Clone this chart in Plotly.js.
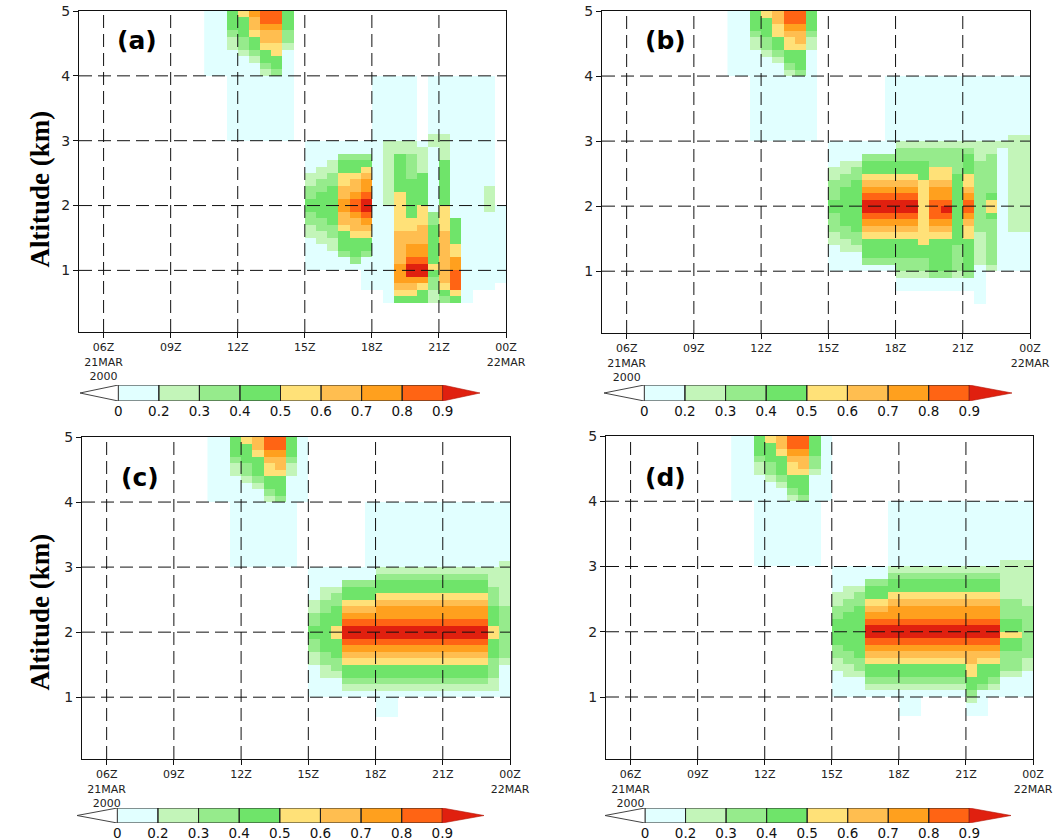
<!DOCTYPE html>
<html><head><meta charset="utf-8">
<script src="https://cdn.plot.ly/plotly-3.0.1.min.js"></script>
<style>html,body{margin:0;padding:0;background:#fff}#chart{width:1059px;height:839px}#err{position:absolute;left:10px;top:10px;font:12px monospace;color:#c00;white-space:pre}</style>
</head><body><div id="chart"></div><div id="err"></div>
<script>
window.onerror = function (msg, src, line, col, err) {
  document.getElementById('err').textContent = msg + '\n' + (err && err.stack ? err.stack : '');
};
// ---------- data ----------
const timeTicks = [6, 9, 12, 15, 18, 21, 24];
const timeTickText = ["06Z<br>21MAR<br>2000", "09Z", "12Z", "15Z", "18Z", "21Z", "00Z<br>22MAR"];
const altTicks = [1, 2, 3, 4, 5];
const levelLabels = ["0", "0.2", "0.3", "0.4", "0.5", "0.6", "0.7", "0.8", "0.9"];
const levelColors = ["#e1ffff", "#c3f5b9", "#96eb8c", "#6fe46a", "#ffe178", "#ffbe50", "#ffa01e", "#ff6414", "#e0200f"];
const timeCenters = [10.75, 11.25, 11.75, 12.25, 12.75, 13.25, 13.75, 14.25, 14.75, 15.25, 15.75, 16.25, 16.75, 17.25,
  17.75, 18.25, 18.75, 19.25, 19.75, 20.25, 20.75, 21.25, 21.75, 22.25, 22.75, 23.25, 23.75];
const altCenters = [4.95, 4.85, 4.75, 4.65, 4.55, 4.45, 4.35, 4.25, 4.15, 4.05, 3.95, 3.85, 3.75, 3.65, 3.55, 3.45, 3.35,
  3.25, 3.15, 3.05, 2.95, 2.85, 2.75, 2.65, 2.55, 2.45, 2.35, 2.25, 2.15, 2.05, 1.95, 1.85, 1.75, 1.65, 1.55, 1.45, 1.35,
  1.25, 1.15, 1.05, 0.95, 0.85, 0.75, 0.65, 0.55, 0.45, 0.35, 0.25, 0.15, 0.05];
// Each time column: level-class runs from 5 km downward, "class*rows" (0 = no value)
const panelA = [
  "1*10", "1*10",
  "4*3 3*1 2*2 1*14",
  "5*1 4*3 3*2 2*1 1*13",
  "7*1 6*2 5*1 4*2 3*1 2*1 1*12",
  "8*2 7*1 6*2 5*1 4*2 3*1 2*1 1*10",
  "8*2 7*1 6*2 5*2 4*2 3*1 1*10",
  "4*3 3*2 2*1 1*14",
  "",
  "0*20 1*5 2*2 3*2 4*2 3*2 2*2 1*5",
  "0*20 1*4 2*2 3*2 4*4 3*2 2*2 1*4",
  "0*20 1*3 2*2 3*2 4*6 3*2 2*2 1*3",
  "0*20 1*2 3*1 4*2 5*2 6*2 7*2 6*2 5*1 4*3 3*1 1*2",
  "0*20 1*2 3*1 4*2 5*1 6*2 7*1 8*2 7*1 6*2 5*1 4*3 3*1 1*1",
  "0*20 1*2 3*1 4*1 5*1 6*1 7*2 8*1 9*2 8*1 7*1 6*1 5*1 4*2 3*1 1*5",
  "0*10 1*33",
  "0*10 1*10 2*10 1*15",
  "0*10 1*10 2*2 4*6 5*6 6*5 7*3 6*1 5*1 4*1",
  "0*10 1*10 2*2 3*4 4*6 5*2 6*2 7*2 8*1 9*2 7*1 6*1 5*1 4*1",
  "0*20 1*1 2*4 4*5 5*3 6*3 7*2 8*1 9*2 7*1 5*1 4*2",
  "0*10 1*9 2*2 1*10 3*2 4*6 5*1 4*1 3*2 2*2",
  "0*10 1*9 2*4 4*7 5*4 6*8 5*1 4*1 3*1",
  "0*10 1*22 4*4 5*2 7*2 8*3 5*1 4*1",
  "0*10 1*35",
  "0*10 1*33",
  "0*10 1*17 2*4 1*12",
  "0*30 1*12"
];
const panelB = [
  "1*10", "1*10",
  "4*3 3*1 2*2 1*14",
  "5*1 4*3 3*2 2*1 1*13",
  "6*2 5*2 4*2 3*1 2*1 1*12",
  "8*2 7*1 6*1 5*2 4*2 3*1 2*1 1*10",
  "8*2 7*1 6*2 5*1 4*3 3*1 1*10",
  "4*3 3*1 2*2 1*14",
  "",
  "0*20 1*4 2*2 3*3 4*2 3*3 2*2 1*4",
  "0*20 1*3 2*2 3*2 4*6 3*2 2*2 1*3",
  "0*20 1*3 2*1 3*2 4*8 3*2 2*1 1*3",
  "0*20 1*2 3*1 4*2 5*1 6*1 7*1 8*1 9*2 8*1 7*1 6*1 5*1 4*3 3*1 1*1",
  "0*20 1*2 3*1 4*2 5*1 6*1 7*1 8*1 9*2 8*1 7*1 6*1 5*1 4*3 3*1 1*1",
  "0*10 1*12 3*1 4*2 5*1 6*1 7*1 8*1 9*2 8*1 7*1 6*1 5*1 4*3 3*1 1*1",
  "0*10 1*10 2*1 3*2 4*2 5*1 6*1 7*1 8*1 9*2 8*1 7*1 6*1 5*1 4*3 3*2 2*1 1*2",
  "0*10 1*10 2*1 3*2 4*2 5*1 6*1 7*1 8*1 9*2 8*1 7*1 6*1 5*1 4*3 3*2 2*1 1*2",
  "0*10 1*10 2*1 3*2 4*3 5*10 4*2 3*2 2*1 1*2",
  "0*10 1*10 2*1 3*3 5*2 6*1 7*2 8*3 7*1 6*1 5*1 4*5 3*1 1*2",
  "0*10 1*10 2*1 3*3 5*2 6*1 7*2 8*1 9*1 8*1 7*1 6*1 5*1 4*5 3*1 1*2",
  "0*10 1*10 2*1 3*4 4*11 3*4 2*1 1*2",
  "0*10 1*10 2*1 3*1 4*3 5*2 6*1 7*1 8*2 7*1 6*1 5*2 4*5 3*1 1*2",
  "0*10 1*10 2*3 3*11 2*5 1*6",
  "0*10 1*10 2*2 3*6 4*1 5*2 4*1 3*7 2*1",
  "0*10 1*10 2*1 1*19",
  "0*10 1*9 2*15 1*6",
  "0*10 1*9 2*15 1*6"
];
const panelC = [
  "1*10", "1*10",
  "4*3 3*1 2*2 1*14",
  "5*1 4*3 3*2 2*1 1*13",
  "6*2 5*1 4*3 3*1 2*1 1*12",
  "8*2 7*1 6*1 5*2 4*2 3*1 2*1 1*10",
  "8*2 7*1 6*2 5*1 4*3 3*1 1*10",
  "4*3 3*1 2*2 1*14",
  "1*10",
  "0*20 1*5 2*2 3*2 4*2 3*2 2*2 1*5",
  "0*20 1*3 2*2 3*2 4*6 3*2 2*2 1*3",
  "0*20 1*3 2*1 3*2 4*3 5*2 4*3 3*2 2*1 1*3",
  "0*20 1*2 3*1 4*2 5*1 6*1 7*1 8*1 9*2 8*1 7*1 6*1 5*1 4*2 3*1 2*1 1*1",
  "0*20 1*2 3*1 4*2 5*1 6*1 7*1 8*1 9*2 8*1 7*1 6*1 5*1 4*2 3*1 2*1 1*1",
  "0*10 1*12 3*1 4*2 5*1 6*1 7*1 8*1 9*2 8*1 7*1 6*1 5*1 4*2 3*1 2*1 1*1",
  "0*10 1*10 2*1 3*1 4*2 5*1 6*1 7*2 8*1 9*2 8*1 7*1 6*1 5*1 4*2 3*1 2*1 1*4",
  "0*10 1*10 2*1 3*1 4*2 5*1 6*1 7*2 8*1 9*2 8*1 7*1 6*1 5*1 4*2 3*1 2*1 1*4",
  "0*10 1*10 2*1 3*1 4*2 5*1 6*1 7*2 8*1 9*2 8*1 7*1 6*1 5*1 4*2 3*1 2*1 1*1",
  "0*10 1*10 2*1 3*1 4*2 5*1 6*1 7*2 8*1 9*2 8*1 7*1 6*1 5*1 4*2 3*1 2*1 1*1",
  "0*10 1*10 2*1 3*1 4*2 5*1 6*1 7*2 8*1 9*2 8*1 7*1 6*1 5*1 4*2 3*1 2*1 1*1",
  "0*10 1*10 2*1 3*1 4*2 5*1 6*1 7*2 8*1 9*2 8*1 7*1 6*1 5*1 4*2 3*1 2*1 1*1",
  "0*10 1*10 2*1 3*1 4*2 5*1 6*1 7*2 8*1 9*2 8*1 7*1 6*1 5*1 4*2 3*1 2*1 1*1",
  "0*10 1*10 2*1 3*1 4*2 5*1 6*1 7*2 8*1 9*2 8*1 7*1 6*1 5*1 4*2 3*1 2*1 1*1",
  "0*10 1*10 2*1 3*1 4*2 5*1 6*1 7*2 8*1 9*2 8*1 7*1 6*1 5*1 4*2 3*1 2*1 1*1",
  "0*10 1*10 2*1 3*1 4*2 5*1 6*1 7*2 8*1 9*2 8*1 7*1 6*1 5*1 4*2 3*1 2*1 1*1",
  "0*10 1*10 2*3 3*3 4*3 5*2 4*3 3*3 2*2 1*1",
  "0*10 1*9 2*7 3*8 2*1 1*5"
];
const panelD = [
  "1*10", "1*10",
  "4*3 3*1 2*2 1*14",
  "5*1 4*3 3*2 2*1 1*13",
  "6*2 5*1 4*3 3*1 2*1 1*12",
  "8*2 7*1 6*1 5*2 4*2 3*1 2*1 1*10",
  "8*2 7*1 6*2 5*1 4*3 3*1 1*10",
  "4*3 3*2 2*1 1*14",
  "1*10",
  "0*20 1*4 2*2 3*2 4*4 3*2 2*2 1*4",
  "0*20 1*3 2*2 3*2 4*6 3*2 2*2 1*3",
  "0*20 1*3 2*1 3*2 4*8 3*2 2*1 1*3",
  "0*20 1*2 3*1 4*2 5*1 6*1 7*1 8*1 9*2 8*1 7*1 6*1 5*1 4*2 3*1 2*1 1*1",
  "0*20 1*2 3*1 4*2 5*1 6*1 7*1 8*1 9*2 8*1 7*1 6*1 5*1 4*2 3*1 2*1 1*1",
  "0*10 1*10 2*1 3*1 4*2 5*1 6*1 7*2 8*1 9*2 8*1 7*1 6*1 5*1 4*2 3*1 2*1 1*1",
  "0*10 1*10 2*1 3*1 4*2 5*1 6*1 7*2 8*1 9*2 8*1 7*1 6*1 5*1 4*2 3*1 2*1 1*4",
  "0*10 1*10 2*1 3*1 4*2 5*1 6*1 7*2 8*1 9*2 8*1 7*1 6*1 5*1 4*2 3*1 2*1 1*4",
  "0*10 1*10 2*1 3*1 4*2 5*1 6*1 7*2 8*1 9*2 8*1 7*1 6*1 5*1 4*2 3*1 2*1 1*1",
  "0*10 1*10 2*1 3*1 4*2 5*1 6*1 7*2 8*1 9*2 8*1 7*1 6*1 5*1 4*2 3*1 2*1 1*1",
  "0*10 1*10 2*1 3*1 4*2 5*1 6*1 7*2 8*1 9*2 8*1 7*1 6*1 5*1 4*2 3*1 2*1 1*1",
  "0*10 1*10 2*1 3*1 4*2 5*1 6*1 7*2 8*1 9*2 8*1 7*1 6*1 5*1 4*2 3*1 2*1 1*1",
  "0*10 1*10 2*1 3*1 4*2 5*1 6*1 7*2 8*1 9*2 8*1 7*1 6*2 5*2 4*2 3*1 2*1 1*2",
  "0*10 1*10 2*1 3*1 4*2 5*1 6*1 7*2 8*1 9*2 8*1 7*1 6*1 5*1 4*3 3*1 1*4",
  "0*10 1*10 2*1 3*1 4*2 5*1 6*1 7*2 8*1 9*2 8*1 7*1 6*1 5*1 4*2 3*1 2*1 1*1",
  "0*10 1*9 2*6 3*3 4*2 5*1 4*2 3*3 2*1 1*3",
  "0*10 1*9 2*6 3*3 4*2 5*1 4*2 3*3 2*1 1*3",
  "0*10 1*9 2*7 3*8 2*2 1*4"
];
const panelLabels = ["(a)", "(b)", "(c)", "(d)"];
const yTitle = "Altitude (km)";

// ---------- build ----------
const W = 1059, H = 839;
const px = v => v / W, py = v => 1 - v / H;
const tickFamily = 'DejaVu Sans, Verdana, sans-serif';

function parseCol(s) {
  const out = new Array(altCenters.length).fill(0);
  let r = 0;
  String(s || '').trim().split(/\s+/).filter(Boolean).forEach(tok => {
    const parts = tok.split('*').map(Number);
    for (let i = 0; i < parts[1]; i++) { if (r < out.length) out[r] = parts[0]; r++; }
  });
  return out;
}
function toZ(cols) {
  const parsed = timeCenters.map((_, c) => parseCol(cols[c]));
  return altCenters.map((_, r) => timeCenters.map((_, c) => parsed[c][r] === 0 ? null : parsed[c][r]));
}
const colorscale = [];
levelColors.forEach((c, i) => { colorscale.push([i / 9, c]); colorscale.push([(i + 1) / 9, c]); });

const panels = [
  {data: panelA, box: {l: 79, r: 506, t: 11, b: 332}, lab: [137, 41], cb: {l: 80, r: 480, bl: 118.3, br: 442.7, t: 385, b: 401}, ytitle: 189},
  {data: panelB, box: {l: 602, r: 1030, t: 11, b: 333}, lab: [665, 41], cb: {l: 604, r: 1012, bl: 644.3, br: 969.3, t: 385, b: 401}},
  {data: panelC, box: {l: 82, r: 510, t: 437, b: 759}, lab: [140, 477], cb: {l: 77, r: 484, bl: 117.3, br: 442.3, t: 808, b: 823}, ytitle: 612},
  {data: panelD, box: {l: 606, r: 1033, t: 436, b: 759}, lab: [665, 477], cb: {l: 605, r: 1011, bl: 645, br: 969.3, t: 808, b: 823}}
];

const traces = [], shapes = [], annotations = [];
const layout = {
  width: W, height: H, margin: {l: 0, r: 0, t: 0, b: 0}, autosize: false,
  paper_bgcolor: '#fff', plot_bgcolor: '#fff', showlegend: false,
  font: {family: tickFamily, color: '#222'}
};
const dashStyle = '13px,6px';
const nSeg = levelLabels.length - 1;
const segCenters = levelLabels.slice(1).map((_, k) => k + 0.5);

panels.forEach((p, i) => {
  const n = i + 1, sfx = n === 1 ? '' : String(n);
  const xa = 'x' + sfx, ya = 'y' + sfx;
  traces.push({
    type: 'heatmap', x: timeCenters, y: altCenters, z: toZ(p.data),
    colorscale: colorscale, zmin: 0.5, zmax: 9.5, showscale: false, hoverinfo: 'skip',
    xaxis: xa, yaxis: ya
  });
  layout['xaxis' + sfx] = {
    domain: [px(p.box.l), px(p.box.r)], anchor: ya, range: [4.9, 24],
    tickmode: 'array', tickvals: timeTicks, ticktext: timeTickText,
    ticks: 'outside', ticklen: 5, tickcolor: '#111', tickwidth: 1,
    showgrid: false, zeroline: false, showline: true, mirror: true, linecolor: '#111', linewidth: 1,
    tickfont: {size: 11, color: '#222', family: tickFamily}, tickangle: 0, fixedrange: true
  };
  layout['yaxis' + sfx] = {
    domain: [py(p.box.b), py(p.box.t)], anchor: xa, range: [0.05, 5],
    tickmode: 'array', tickvals: altTicks, ticktext: altTicks.map(String),
    ticks: 'outside', ticklen: 5, tickcolor: '#111', tickwidth: 1,
    showgrid: false, zeroline: false, showline: true, mirror: true, linecolor: '#111', linewidth: 1,
    tickfont: {size: 14, color: '#222', family: tickFamily}, fixedrange: true
  };
  timeTicks.slice(0, -1).forEach(v => shapes.push({
    type: 'line', xref: xa, yref: 'paper', x0: v, x1: v, y0: py(p.box.b), y1: py(p.box.t),
    line: {color: '#111', width: 1, dash: dashStyle}, layer: 'above'
  }));
  altTicks.slice(0, -1).forEach(v => shapes.push({
    type: 'line', xref: 'paper', yref: ya, x0: px(p.box.l), x1: px(p.box.r), y0: v, y1: v,
    line: {color: '#111', width: 1, dash: dashStyle}, layer: 'above'
  }));
  annotations.push({
    xref: 'paper', yref: 'paper', x: px(p.lab[0]), y: py(p.lab[1]), xanchor: 'center', yanchor: 'middle',
    text: '<b>' + panelLabels[i] + '</b>', showarrow: false,
    font: {family: 'DejaVu Sans, Verdana, sans-serif', size: 25, color: '#000'}
  });
  if (p.ytitle) annotations.push({
    xref: 'paper', yref: 'paper', x: px(39.5), y: py(p.ytitle), xanchor: 'center', yanchor: 'middle',
    text: '<b>' + yTitle + '</b>', textangle: -90, showarrow: false,
    font: {family: 'Liberation Serif, Times New Roman, serif', size: 27, color: '#000'}
  });

  // colour bar on its own small axis pair
  const cn = 4 + n, cxa = 'x' + cn, cya = 'y' + cn;
  const u = (p.cb.br - p.cb.bl) / nSeg;
  const tl = (p.cb.bl - p.cb.l) / u, tr = (p.cb.r - p.cb.br) / u;
  traces.push({
    type: 'heatmap', x: segCenters, y: [0.5], z: [segCenters.map((_, k) => k + 1)],
    colorscale: colorscale, zmin: 0.5, zmax: 9.5, showscale: false, hoverinfo: 'skip',
    xaxis: cxa, yaxis: cya
  });
  layout['xaxis' + cn] = {
    domain: [px(p.cb.l), px(p.cb.r)], anchor: cya, range: [-tl, nSeg + tr],
    tickmode: 'array', tickvals: levelLabels.map((_, k) => k), ticktext: levelLabels,
    ticks: '', showline: false, showgrid: false, zeroline: false,
    tickfont: {size: 13.5, color: '#111', family: tickFamily}, fixedrange: true
  };
  layout['yaxis' + cn] = {
    domain: [py(p.cb.b), py(p.cb.t)], anchor: cxa, range: [0, 1],
    showticklabels: false, ticks: '', showline: false, showgrid: false, zeroline: false, fixedrange: true
  };
  for (let k = 0; k < nSeg; k++) {
    shapes.push({type: 'rect', xref: cxa, yref: cya, x0: k, x1: k + 1, y0: 0, y1: 1,
      line: {color: '#222', width: 1}, layer: 'above'});
  }
  shapes.push({type: 'path', xref: cxa, yref: cya, path: 'M 0 0 L 0 1 L ' + (-tl) + ' 0.5 Z',
    fillcolor: '#ffffff', line: {color: '#444', width: 1}, layer: 'above'});
  shapes.push({type: 'path', xref: cxa, yref: cya, path: 'M ' + nSeg + ' 0 L ' + nSeg + ' 1 L ' + (nSeg + tr) + ' 0.5 Z',
    fillcolor: levelColors[levelColors.length - 1], line: {color: '#b01808', width: 0.6}, layer: 'above'});
});
layout.shapes = shapes;
layout.annotations = annotations;
try {
  Plotly.newPlot('chart', traces, layout, {displayModeBar: false, staticPlot: true}).catch(e => {
    document.getElementById('err').textContent = 'promise: ' + e.message + '\n' + e.stack;
  });
} catch (e) {
  document.getElementById('err').textContent = 'sync: ' + e.message + '\n' + e.stack;
}
</script>
</body></html>
